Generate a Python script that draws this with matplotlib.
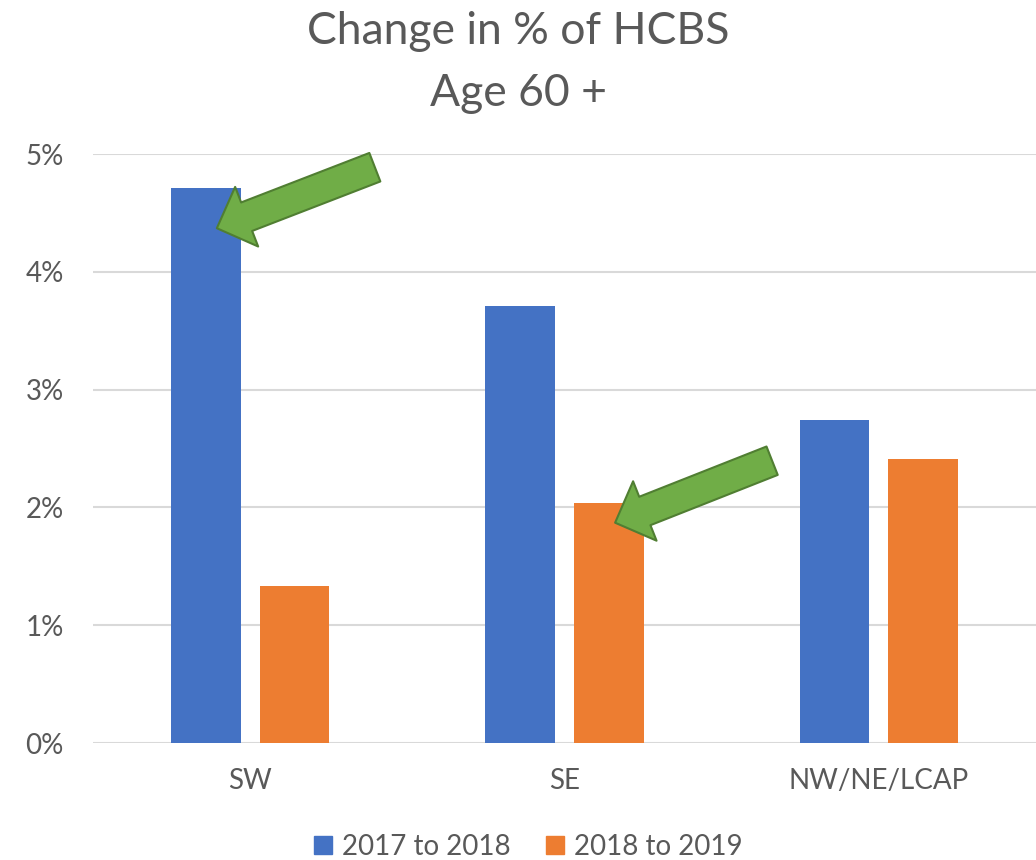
import matplotlib
matplotlib.use('Agg')
import matplotlib.pyplot as plt
from matplotlib.patches import Patch
from matplotlib.ticker import FuncFormatter
import numpy as np

regions = ['SW', 'SE', 'NW/NE/LCAP']
series = ['2017 to 2018', '2018 to 2019']
change_1718 = [4.71, 3.71, 2.74]
change_1819 = [1.33, 2.04, 2.41]
yticks = [0, 1, 2, 3, 4, 5]

blue = '#4472C4'
orange = '#ED7D31'
green = '#70AD47'
green_edge = '#507E32'
text_grey = '#595959'

plt.rcParams['font.family'] = ['Lato', 'DejaVu Sans']

fig = plt.figure(figsize=(10.36, 8.6), dpi=100)
ax = fig.add_axes([93 / 1036, 1 - 743 / 860, 1 - 93 / 1036, (743 - 154) / 860])

x = np.arange(len(regions))
width = 0.222
offset = 0.141
ax.bar(x - offset, change_1718, width, color=blue, zorder=2)
ax.bar(x + offset, change_1819, width, color=orange, zorder=2)

ax.set_xlim(-0.5, 2.5)
ax.set_ylim(0, 5)
ax.set_yticks(yticks)
ax.yaxis.set_major_formatter(FuncFormatter(lambda v, p: f'{v:.0f}%'))
ax.set_xticks(x)
ax.set_xticklabels(regions)
ax.grid(axis='y', color='#D9D9D9', linewidth=1.5, zorder=0)
ax.set_axisbelow(True)
for s in ax.spines.values():
    s.set_visible(False)
ax.tick_params(axis='both', length=0, labelcolor=text_grey)
ax.tick_params(axis='y', pad=21, labelsize=20)
ax.tick_params(axis='x', pad=18, labelsize=20)

fig.suptitle('Change in % of HCBS\nAge 60 +', y=0.987, fontsize=32, color=text_grey,
             linespacing=1.62, va='top')

# green callout arrows pointing at bars
arrow_style = 'simple,head_length=23,head_width=46,tail_width=22'
arrow_props = dict(arrowstyle=arrow_style, mutation_scale=1, fc=green, ec=green_edge,
                   lw=1.5, shrinkA=0, shrinkB=0)
ax.annotate('', xy=(0 - offset + 0.035, 4.37), xytext=(158, 61),
            textcoords='offset pixels', arrowprops=arrow_props, zorder=5)
ax.annotate('', xy=(1 + offset + 0.02, 1.87), xytext=(157, 62),
            textcoords='offset pixels', arrowprops=arrow_props, zorder=5)

handles = [Patch(color=blue), Patch(color=orange)]
fig.legend(handles, series, loc='lower center', bbox_to_anchor=(0.51, -0.029), ncol=2,
           frameon=False, fontsize=20, labelcolor=text_grey, handlelength=0.65,
           handleheight=0.65, handletextpad=0.35, columnspacing=1.3)

fig.savefig('out.png', dpi=100)
